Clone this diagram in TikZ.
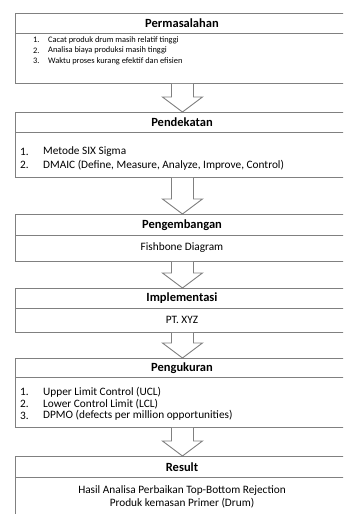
\documentclass[tikz,border=0pt]{standalone}
\usepackage{fontspec}
\setmainfont{Carlito}
\usetikzlibrary{calc}
\tikzset{
  boxframe/.style={draw=black!50, line width=0.9pt, anchor=north west, inner sep=0pt},
  sepline/.style={draw=black!50, line width=0.9pt},
  blockarr/.style={draw=black!50, line width=0.9pt, fill=white},
  head/.style={font=\bfseries\fontsize{12.5}{14}\selectfont, inner sep=0pt},
  bodytxt/.style={font=\fontsize{11.3}{12}\selectfont, inner sep=0pt, anchor=west},
  tinytxt/.style={font=\fontsize{8.4}{9}\selectfont, inner sep=0pt, anchor=west},
  ctxt/.style={font=\fontsize{11.3}{12}\selectfont, inner sep=0pt},
}
\newcommand{\blockarrow}[2]{%
  \draw[blockarr] let \p1=(#1.south), \p2=(#2.north) in
    (\x1-11pt,\y1) -- (\x1-11pt,\y2+15pt) -- (\x1-20pt,\y2+15pt) -- (\x1,\y2)
    -- (\x1+20pt,\y2+15pt) -- (\x1+11pt,\y2+15pt) -- (\x1+11pt,\y1);}
\begin{document}
\begin{tikzpicture}[x=1pt,y=-1pt]
\useasboundingbox (0,0) rectangle (343,514);
\clip (0,0) rectangle (343,514);
% boxes
\node[boxframe, minimum width=334pt, minimum height=70pt] (b1) at (15,13) {};
\node[boxframe, minimum width=334pt, minimum height=65pt] (b2) at (15,112) {};
\node[boxframe, minimum width=334pt, minimum height=47pt] (b3) at (15,214) {};
\node[boxframe, minimum width=334pt, minimum height=44pt] (b4) at (15,288) {};
\node[boxframe, minimum width=334pt, minimum height=69pt] (b5) at (15,358) {};
\node[boxframe, minimum width=334pt, minimum height=80pt] (b6) at (15,456) {};
% header separators
\draw[sepline] (15,33) -- (349,33);
\draw[sepline] (15,132) -- (349,132);
\draw[sepline] (15,235) -- (349,235);
\draw[sepline] (15,308) -- (349,308);
\draw[sepline] (15,377) -- (349,377);
\draw[sepline] (15,477) -- (349,477);
% arrows
\blockarrow{b1}{b2}
\blockarrow{b2}{b3}
\blockarrow{b3}{b4}
\blockarrow{b4}{b5}
\blockarrow{b5}{b6}
% box 1
\node[head] (h1) at (182,23) {Permasalahan};
\node[tinytxt] (n11) at (33,40) {1.};
\node[tinytxt] (t11) at (48,40) {Cacat produk drum masih relatif tinggi};
\node[tinytxt] (n12) at (33,50.5) {2.};
\node[tinytxt] (t12) at (48,50.5) {Analisa biaya produksi masih tinggi};
\node[tinytxt] (n13) at (33,61) {3.};
\node[tinytxt] (t13) at (48,61) {Waktu proses kurang efektif dan efisien};
% box 2
\node[head] (h2) at (182,122) {Pendekatan};
\node[bodytxt] (n21) at (20,152) {1.};
\node[bodytxt] (t21) at (43,152) {Metode SIX Sigma};
\node[bodytxt] (n22) at (20,165) {2.};
\node[bodytxt] (t22) at (43,165) {DMAIC (Define, Measure, Analyze, Improve, Control)};
% box 3
\node[head] (h3) at (182,225) {Pengembangan};
\node[ctxt] (t31) at (182,248) {Fishbone Diagram};
% box 4
\node[head] (h4) at (182,298) {Implementasi};
\node[ctxt] (t41) at (182,320) {PT. XYZ};
% box 5
\node[head] (h5) at (182,368) {Pengukuran};
\node[bodytxt] (n51) at (20,392) {1.};
\node[bodytxt] (t51) at (43,392) {Upper Limit Control (UCL)};
\node[bodytxt] (n52) at (20,404) {2.};
\node[bodytxt] (t52) at (43,404) {Lower Control Limit (LCL)};
\node[bodytxt] (n53) at (20,415.5) {3.};
\node[bodytxt] (t53) at (43,415.5) {DPMO (defects per million opportunities)};
% box 6
\node[head] (h6) at (182,467) {Result};
\node[ctxt] (t61) at (182,491) {Hasil Analisa Perbaikan Top-Bottom Rejection};
\node[ctxt] (t62) at (182,503) {Produk kemasan Primer (Drum)};
\end{tikzpicture}
\end{document}
